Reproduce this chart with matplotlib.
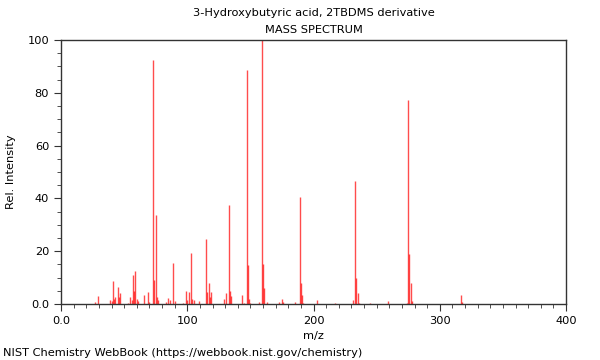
import matplotlib
matplotlib.use("Agg")
import matplotlib.pyplot as plt
from matplotlib.ticker import MultipleLocator, FuncFormatter

# peaks (m/z, relative intensity)
mz = [27, 29, 39, 40, 41, 42, 43, 45, 46, 47, 53, 55, 56, 57, 58, 59, 60, 61,
      66, 69, 70, 73, 74, 75, 76, 77, 83, 85, 86, 89, 90, 97, 99, 100, 101, 103,
      104, 105, 109, 115, 116, 117, 118, 119, 129, 131, 133, 134, 135, 143, 145,
      147, 148, 149, 150, 157, 159, 160, 161, 163, 173, 175, 176, 185, 189, 190,
      191, 192, 203, 217, 231, 233, 234, 235, 236, 245, 259, 274, 275, 276, 277,
      278, 317, 318]
intensity = [0.6, 3.2, 1.5, 1.3, 8.8, 2.0, 2.8, 6.3, 2.5, 4.0, 0.5, 2.5, 1.5, 11.0,
             5.0, 12.6, 2.0, 1.3, 3.5, 4.4, 0.6, 92.4, 9.0, 33.8, 2.5, 1.5, 0.6,
             2.3, 1.5, 15.7, 1.0, 0.5, 5.0, 1.5, 4.7, 19.4, 2.0, 1.5, 1.0, 24.5,
             4.4, 8.0, 2.5, 4.5, 1.8, 4.0, 37.5, 5.0, 3.0, 3.5, 0.5, 88.6, 14.8,
             1.8, 0.5, 0.6, 100.0, 15.0, 6.0, 0.6, 0.8, 1.9, 0.6, 0.6, 40.7, 7.8,
             3.5, 0.5, 1.6, 0.3, 1.6, 46.5, 10.0, 4.3, 0.5, 0.4, 1.3, 0.4, 77.3,
             19.0, 7.8, 1.0, 3.4, 0.8]

fs = 8.2
fig = plt.figure(figsize=(6, 3.6), dpi=100)
ax = fig.add_axes([61/600, 1 - 304/360, 505/600, 264/360])

ax.vlines(mz, 0, intensity, colors="#ff0000", linewidth=1.0, alpha=0.7)

ax.set_xlim(0, 400)
ax.set_ylim(0, 100)
ax.xaxis.set_major_locator(MultipleLocator(100))
ax.xaxis.set_minor_locator(MultipleLocator(10))
ax.yaxis.set_major_locator(MultipleLocator(20))
ax.yaxis.set_minor_locator(MultipleLocator(5))
fmt = FuncFormatter(lambda v, p: "0.0" if v == 0 else "%d" % v)
ax.xaxis.set_major_formatter(fmt)
ax.yaxis.set_major_formatter(fmt)
ax.tick_params(which="both", direction="out", top=False, right=False,
               labelsize=fs, color="#333333")
ax.tick_params(which="major", length=5)
ax.tick_params(which="minor", length=3)
for s in ax.spines.values():
    s.set_color("#333333")
    s.set_linewidth(1.0)

ax.set_xlabel("m/z", fontsize=fs, labelpad=4)
ax.set_ylabel("Rel. Intensity", fontsize=fs, labelpad=8)

fig.text(314/600, 1 - 13/360, "3-Hydroxybutyric acid, 2TBDMS derivative",
         ha="center", va="center", fontsize=fs)
fig.text(314/600, 1 - 30/360, "MASS SPECTRUM", ha="center", va="center", fontsize=fs)
fig.text(3/600, 1 - 353/360, "NIST Chemistry WebBook (https://webbook.nist.gov/chemistry)",
         ha="left", va="center", fontsize=fs)

plt.savefig("out.png", dpi=100)
